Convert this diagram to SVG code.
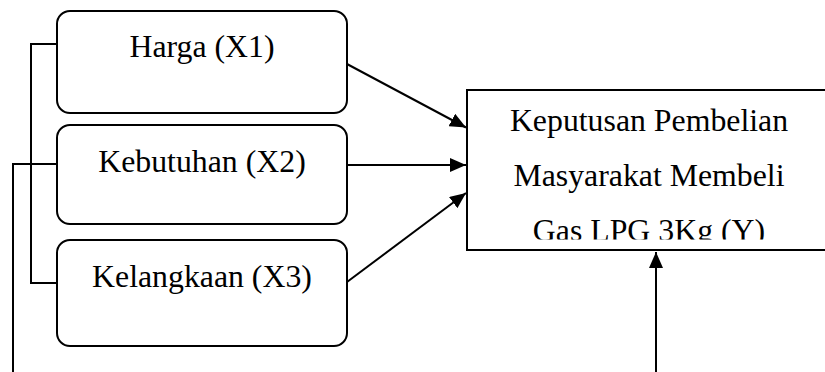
<svg xmlns="http://www.w3.org/2000/svg" width="825" height="372" viewBox="0 0 825 372">
  <style>
    .box { fill: #ffffff; stroke: #000000; stroke-width: 2; }
    .line { fill: none; stroke: #000000; stroke-width: 2; }
    .label { font-family: "Liberation Serif", "Times New Roman", serif; font-size: 31.8px; fill: #000000; text-anchor: middle; }
  </style>
  <defs>
    <marker id="arrow" markerWidth="8" markerHeight="7" refX="8" refY="3.5" orient="auto" markerUnits="strokeWidth">
      <path d="M0,0 L8,3.5 L0,7 Z" fill="#000000"/>
    </marker>
    <clipPath id="yclip">
      <rect x="467" y="90" width="360" height="149.5"/>
    </clipPath>
  </defs>

  <!-- connectors -->
  <g id="connectors">
    <!-- bracket joining X1 and X3 -->
    <path class="line" d="M57,44 H31 V283 H57"/>
    <!-- line from X2 running down off the page -->
    <path class="line" d="M57,164 H13 V372"/>
    <!-- independent variables to Y -->
    <line class="line" x1="347" y1="64" x2="466" y2="127.5" marker-end="url(#arrow)"/>
    <line class="line" x1="347" y1="165" x2="466" y2="165" marker-end="url(#arrow)"/>
    <line class="line" x1="347" y1="282" x2="466" y2="193" marker-end="url(#arrow)"/>
    <!-- arrow from below into Y -->
    <line class="line" x1="656" y1="372" x2="656" y2="252" marker-end="url(#arrow)"/>
  </g>

  <g id="x1">
    <rect class="box" x="57" y="11" width="290" height="102" rx="13" ry="13"/>
    <text class="label" x="202" y="57">Harga (X1)</text>
  </g>

  <g id="x2">
    <rect class="box" x="57" y="125" width="290" height="99" rx="13" ry="13"/>
    <text class="label" x="202" y="171.5">Kebutuhan (X2)</text>
  </g>

  <g id="x3">
    <rect class="box" x="57" y="240" width="290" height="106" rx="13" ry="13"/>
    <text class="label" x="202" y="286.5">Kelangkaan (X3)</text>
  </g>

  <g id="y">
    <rect class="box" x="467" y="90" width="370" height="160"/>
    <g clip-path="url(#yclip)">
      <text class="label" x="649" y="131">Keputusan Pembelian</text>
      <text class="label" x="649" y="186">Masyarakat Membeli</text>
      <text class="label" x="649" y="241">Gas LPG 3Kg (Y)</text>
    </g>
  </g>
</svg>
